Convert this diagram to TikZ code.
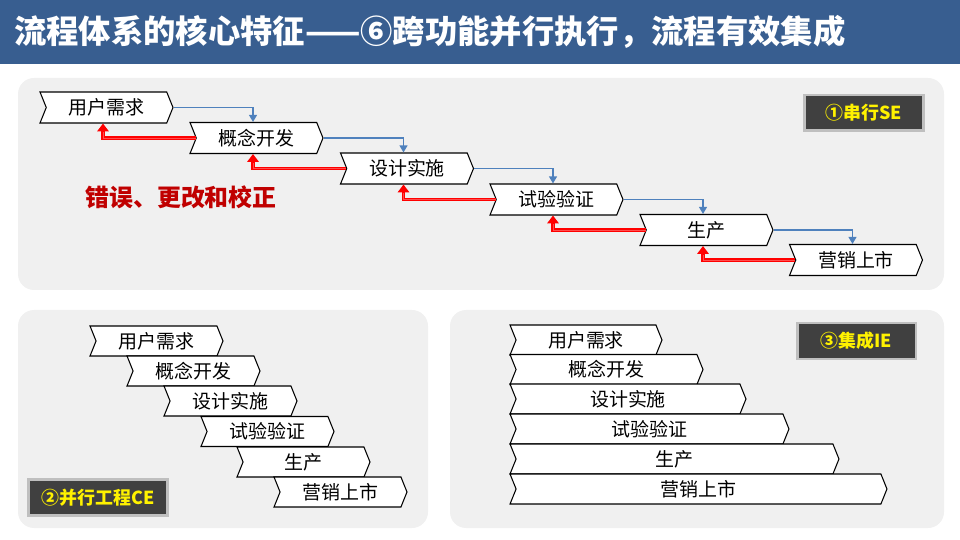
\documentclass[tikz,border=0pt]{standalone}
\usepackage{fontspec}
\setmainfont{Noto Sans CJK SC}
\usetikzlibrary{shapes.symbols,arrows.meta}

\definecolor{barblue}{HTML}{385E90}
\definecolor{panelgray}{HTML}{F0F0F0}
\definecolor{lineblue}{HTML}{4F81BD}
\definecolor{errred}{HTML}{C00000}
\definecolor{tagfill}{HTML}{404040}
\definecolor{tagedge}{HTML}{BFBFBF}

\tikzset{
	stage/.style = {signal, signal from = west, signal to = east, signal pointer angle = 136,
		draw = black, line width = 0.6pt, fill = white, inner sep = 0pt,
		minimum width = 2.66cm, minimum height = 0.62cm,
		font = \fontsize{10.8}{12}\selectfont},
	tag/.style = {draw = tagedge, line width = 1.7pt, fill = tagfill, text = yellow,
		inner sep = 0pt, minimum height = 0.72cm, font = \fontsize{10.2}{12}\selectfont\bfseries},
	panel/.style = {fill = panelgray, rounded corners = 0.32cm},
	fwdln/.style = {draw = lineblue, line width = 0.7pt, -{Triangle[width = 4.5pt, length = 4pt]}},
	errln/.style = {draw = red, line width = 2pt, -{Triangle[width = 6.5pt, length = 4.5pt]},
		postaction = {draw = red!70!white, line width = 0.3pt, -, shorten > = 5pt}}
}

\begin{document}
\begin{tikzpicture} [x = 0.02cm, y = -0.02cm]
	\useasboundingbox (0,0) rectangle (960,540);
	% title bar
	\fill [barblue] (0,0) rectangle (960,64);
	\node [anchor = west, text = white, font = \fontsize{18.4}{20}\selectfont\bfseries] (title) at (8,32) {流程体系的核心特征——⑥跨功能并行执行，流程有效集成};
	% panels
	\path [panel] (18,78) rectangle (944,290);
	\path [panel] (18,310) rectangle (428,528);
	\path [panel] (450,310) rectangle (944,528);
	% 1: serial
	\foreach \n/\x/\y/\t in {1/106.5/107.5/用户需求, 2/256.5/138/概念开发, 3/407/168.5/设计实施,
		4/556.5/199.5/试验验证, 5/706.5/230/生产, 6/856/260/营销上市}
		\node [stage] (se\n) at (\x,\y) {\t};
	\foreach \a/\b in {1/2, 2/3, 3/4, 4/5, 5/6} {
		\draw [fwdln] (se\a.east) -| ([xshift = -0.07cm]se\b.north);
		\draw [errln] (se\b.west) -| ([xshift = -0.07cm]se\a.south);
	}
	\node [text = errred, font = \fontsize{13.6}{15}\selectfont\bfseries] (fix) at (181,197) {错误、更改和校正};
	\node [tag, minimum width = 2.38cm] (setag) at (864,113) {①串行SE};
	% 2: concurrent
	\foreach \n/\x/\y/\t in {1/156.5/341/用户需求, 2/193.5/371/概念开发, 3/230.5/401/设计实施,
		4/267.5/431.5/试验验证, 5/303.5/462/生产, 6/340.5/492/营销上市}
		\node [stage, minimum height = 0.6cm] (ce\n) at (\x,\y) {\t};
	\node [tag, minimum width = 2.8cm] (cetag) at (98,497.5) {②并行工程CE};
	% 3: integrated
	\foreach \n/\x/\y/\w/\t in {1/586/340/3.04/用户需求, 2/606.5/369.5/3.86/概念开发, 3/628/399/4.72/设计实施,
		4/649.5/429/5.58/试验验证, 5/674.5/459/6.58/生产, 6/698.5/489/7.54/营销上市}
		\node [stage, minimum height = 0.6cm, minimum width = \w cm] (ie\n) at (\x,\y) {\t};
	\node [tag, minimum width = 2.38cm] (ietag) at (856.5,341) {③集成IE};
\end{tikzpicture}
\end{document}
